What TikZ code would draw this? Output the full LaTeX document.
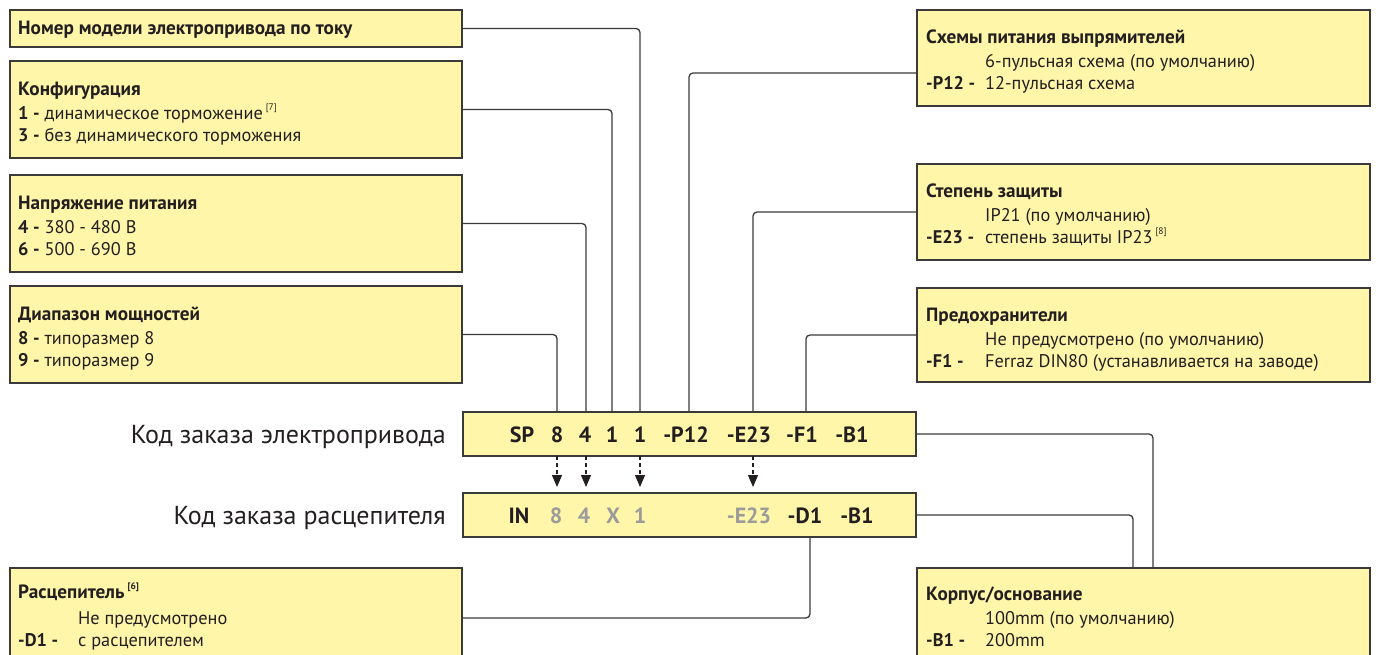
\documentclass[tikz,border=0pt]{standalone}
\usepackage{fontspec}
\setmainfont{PT Sans}
\usetikzlibrary{arrows.meta,calc}
\definecolor{boxfill}{HTML}{FFF6AA}
\definecolor{edge}{HTML}{3A3A3A}
\definecolor{ink}{HTML}{231F20}
\definecolor{dim}{HTML}{9B9B9B}
\newcommand\fnref[1]{\raisebox{0.45em}{\fontsize{9.5}{9.5}\selectfont[#1]}}
\newcommand\bt[1]{{\fontsize{19.2}{21}\selectfont\bfseries #1}}
\tikzset{
 box/.style={draw=edge, line width=1.3pt, fill=boxfill, anchor=north west, inner sep=0pt, outer sep=0pt},
 txt/.style={anchor=base west, inner sep=0pt, text=ink, font=\fontsize{18.3}{20}\selectfont},
 tok/.style={anchor=base, inner sep=0pt, text=ink, font=\fontsize{22}{24}\selectfont\bfseries},
 dimtok/.style={tok, text=dim},
 lab/.style={anchor=base east, inner sep=0pt, text=ink, font=\fontsize{26}{30}\selectfont},
 conn/.style={draw=edge, line width=1.3pt, rounded corners=4pt},
 darr/.style={draw=ink, line width=1.1pt, dash pattern=on 4pt off 3pt, -{Triangle[length=12pt,width=10pt]}, shorten >=6pt},
}
\begin{document}
\begin{tikzpicture}[x=1pt,y=-1pt]
\useasboundingbox (0,0) rectangle (1376,654);
\clip (0,0) rectangle (1376,654);
% ---- left boxes
\node[box, minimum width=452pt, minimum height=37pt] (bmodel) at (10,10) {};
\node[box, minimum width=452pt, minimum height=97pt] (bconf) at (10,61) {};
\node[box, minimum width=452pt, minimum height=97pt] (bvolt) at (10,175) {};
\node[box, minimum width=452pt, minimum height=97pt] (bpow) at (10,286) {};
\node[box, minimum width=452pt, minimum height=100pt] (bdisc) at (10,568) {};
% ---- right boxes
\node[box, minimum width=453pt, minimum height=96pt] (bR1) at (917,10) {};
\node[box, minimum width=453pt, minimum height=96pt] (bR2) at (917,164) {};
\node[box, minimum width=453pt, minimum height=94pt] (bR3) at (917,288) {};
\node[box, minimum width=453pt, minimum height=100pt] (bcase) at (917,568) {};
% ---- code boxes
\node[box, minimum width=453pt, minimum height=44pt] (code1) at (463,412) {};
\node[box, minimum width=453pt, minimum height=44pt] (code2) at (463,493) {};
% ---- left box texts
\node[txt] (t1) at (18,34.5) {\bt{Номер модели электропривода по току}};
\node[txt] (t2a) at (18,95) {\bt{Конфигурация}};
\node[txt] (t2b) at (18,119) {\textbf{1 -} динамическое торможение\,\fnref{7}};
\node[txt] (t2c) at (18,141) {\textbf{3 -} без динамического торможения};
\node[txt] (t3a) at (18,209) {\bt{Напряжение питания}};
\node[txt] (t3b) at (18,233) {\textbf{4 -} 380 - 480 В};
\node[txt] (t3c) at (18,255) {\textbf{6 -} 500 - 690 В};
\node[txt] (t4a) at (18,320) {\bt{Диапазон мощностей}};
\node[txt] (t4b) at (18,344) {\textbf{8 -} типоразмер 8};
\node[txt] (t4c) at (18,366) {\textbf{9 -} типоразмер 9};
\node[txt] (t5a) at (18,598) {\bt{Расцепитель}\,{\bfseries\fnref{6}}};
\node[txt] (t5b) at (78,624) {Не предусмотрено};
\node[txt] (t5c) at (18,646) {\textbf{-D1 -}};
\node[txt] (t5d) at (78,646) {с расцепителем};
% ---- right box texts
\node[txt] (r1a) at (926,43) {\bt{Схемы питания выпрямителей}};
\node[txt] (r1b) at (985,67) {6-пульсная схема (по умолчанию)};
\node[txt] (r1c) at (926,89) {\textbf{-P12 -}};
\node[txt] (r1d) at (985,89) {12-пульсная схема};
\node[txt] (r2a) at (926,197) {\bt{Степень защиты}};
\node[txt] (r2b) at (985,221) {IP21 (по умолчанию)};
\node[txt] (r2c) at (926,243) {\textbf{-E23 -}};
\node[txt] (r2d) at (985,243) {степень защиты IP23\,\fnref{8}};
\node[txt] (r3a) at (926,321) {\bt{Предохранители}};
\node[txt] (r3b) at (985,345) {Не предусмотрено (по умолчанию)};
\node[txt] (r3c) at (926,367) {\textbf{-F1 -}};
\node[txt] (r3d) at (985,367) {Ferraz DIN80 (устанавливается на заводе)};
\node[txt] (r4a) at (926,600) {\bt{Корпус/основание}};
\node[txt] (r4b) at (985,624) {100mm (по умолчанию)};
\node[txt] (r4c) at (926,646) {\textbf{-B1 -}};
\node[txt] (r4d) at (985,646) {200mm};
% ---- side labels
\node[lab] (lab1) at (446,443) {Код заказа электропривода};
\node[lab] (lab2) at (446,524) {Код заказа расцепителя};
% ---- code 1 tokens
\node[tok] (a1) at (522,442) {SP};
\node[tok] (a2) at (557,442) {8};
\node[tok] (a3) at (585,442) {4};
\node[tok] (a4) at (612,442) {1};
\node[tok] (a5) at (640,442) {1};
\node[tok] (a6) at (686,442) {-P12};
\node[tok] (a7) at (749,442) {-E23};
\node[tok] (a8) at (802,442) {-F1};
\node[tok] (a9) at (852,442) {-B1};
% ---- code 2 tokens
\node[tok] (c1) at (519,523) {IN};
\node[dimtok] (c2) at (556,523) {8};
\node[dimtok] (c3) at (584,523) {4};
\node[dimtok] (c4) at (613,523) {X};
\node[dimtok] (c5) at (640,523) {1};
\node[dimtok] (c6) at (749,523) {-E23};
\node[tok] (c7) at (805,523) {-D1};
\node[tok] (c8) at (857,523) {-B1};
% ---- connector x positions
\coordinate (x557) at (557,0);
\coordinate (x586) at (586,0);
\coordinate (x612) at (612,0);
\coordinate (x640) at (640,0);
\coordinate (x689) at (689,0);
\coordinate (x753) at (753,0);
\coordinate (x806) at (806,0);
\coordinate (x810) at (810,0);
\coordinate (x1133) at (1133,0);
\coordinate (x1153) at (1153,0);
% ---- connectors
\draw[conn] (bmodel.east) -| (x640 |- code1.north);
\draw[conn] (bconf.east) -| (x612 |- code1.north);
\draw[conn] (bvolt.east) -| (x586 |- code1.north);
\draw[conn] (bpow.east) -| (x557 |- code1.north);
\draw[conn] ([yshift=-15pt]bR1.west) -| (x689 |- code1.north);
\draw[conn] (bR2.west) -| (x753 |- code1.north);
\draw[conn] (bR3.west) -| (x806 |- code1.north);
\draw[conn] (code1.east) -| (x1153 |- bcase.north);
\draw[conn] (code2.east) -| (x1133 |- bcase.north);
\draw[conn] (x810 |- code2.south) |- (bdisc.east);
% ---- dashed arrows
\draw[darr] (x557 |- code1.south) -- (x557 |- code2.north);
\draw[darr] (x586 |- code1.south) -- (x586 |- code2.north);
\draw[darr] (x640 |- code1.south) -- (x640 |- code2.north);
\draw[darr] (x753 |- code1.south) -- (x753 |- code2.north);
\end{tikzpicture}
\end{document}
